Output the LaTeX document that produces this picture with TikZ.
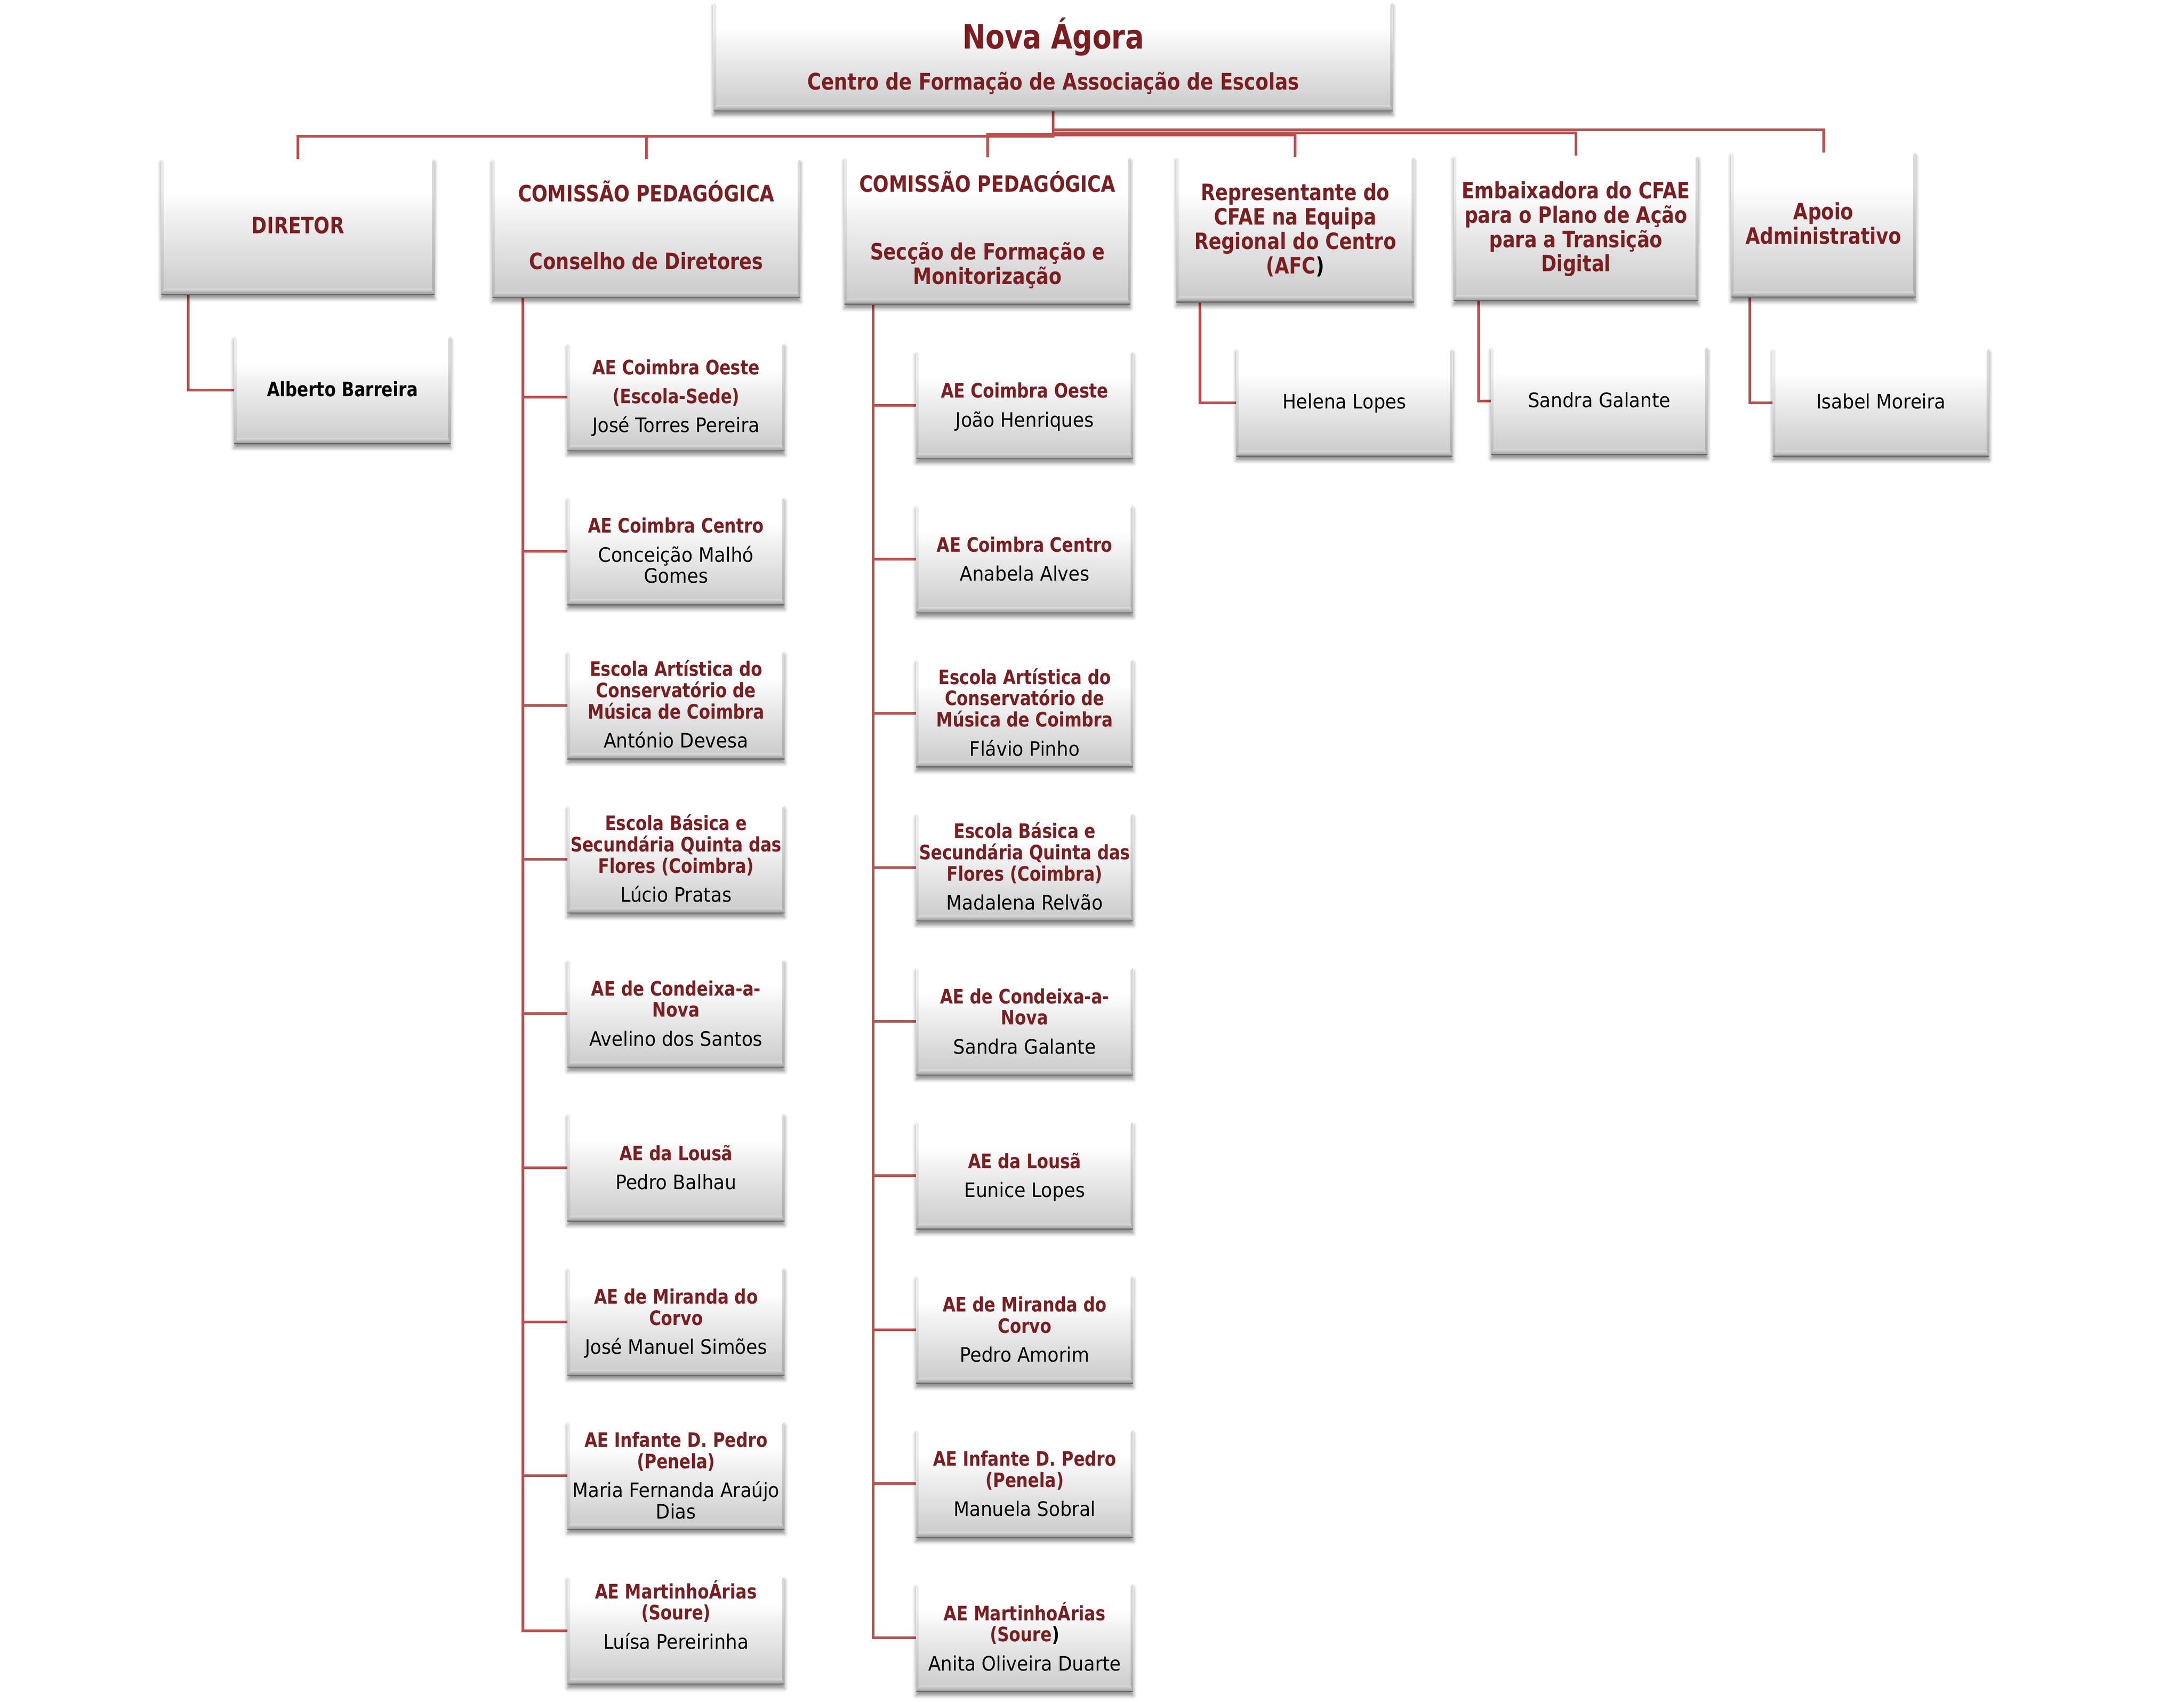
\documentclass[tikz,border=0pt]{standalone}
\usepackage{fontspec}
\setmainfont{DejaVu Sans}
\newfontfamily\bfam{DejaVu Sans}[FakeStretch=0.83]
\newfontfamily\rfam{DejaVu Sans}[FakeStretch=0.92]
\usetikzlibrary{shadows.blur,fit,calc}
\definecolor{lnc}{RGB}{190,78,76}
\definecolor{ttc}{RGB}{124,30,32}
\pgfdeclareverticalshading{boxshade}{100bp}{color(0bp)=(black!21); color(25bp)=(black!21); color(40bp)=(black!13); color(55bp)=(black!5); color(63bp)=(white); color(100bp)=(white)}
\pgfdeclarelayer{bg}
\pgfsetlayers{bg,main}
\newcommand\Tline[1]{{\color{ttc}\bfam\bfseries #1}}
\newcommand\Nline[1]{{\color{black}\rfam #1}}
\newcommand\Bline[1]{{\color{black}\bfam\bfseries #1}}
\tikzset{
 box/.style={inner sep=0pt, outer sep=0pt, shade, shading=boxshade, draw=none,
   blur shadow={shadow xshift=0pt, shadow yshift=-2.4pt, shadow blur radius=2.2pt, shadow opacity=45},
   path picture={
     \fill[black,opacity=0.08] (path picture bounding box.south west) -- (path picture bounding box.north west) -- ([xshift=1.6pt,yshift=-1.6pt]path picture bounding box.north west) -- ([xshift=1.6pt,yshift=3.6pt]path picture bounding box.south west) -- cycle;
     \fill[black,opacity=0.15] (path picture bounding box.south east) -- (path picture bounding box.north east) -- ([xshift=-1.6pt,yshift=-1.6pt]path picture bounding box.north east) -- ([xshift=-1.6pt,yshift=3.6pt]path picture bounding box.south east) -- cycle;
     \shade[top color=black!14, bottom color=black!42] (path picture bounding box.south west) -- ([xshift=1.6pt,yshift=3.6pt]path picture bounding box.south west) -- ([xshift=-1.6pt,yshift=3.6pt]path picture bounding box.south east) -- (path picture bounding box.south east) -- cycle;
     \draw[black!58, line width=1pt] (path picture bounding box.south west) -- (path picture bounding box.south east);
   }},
 conn/.style={draw=lnc, line width=1.6pt},
 ctext/.style={anchor=base, align=center, inner sep=0pt, font=\fontsize{12.2}{13.06}\selectfont},
 ltext/.style={anchor=base, align=center, inner sep=0pt, font=\fontsize{13.8}{14.94}\selectfont},
}
% #4 = baseline of the LAST text line
\newcommand\bx[5]{\node[box, fit={(#2,#3)(#4,#5)}] (#1) {};}
\newcommand\cbox[5]{\node[box, fit={(#2,#3)(#2+155.8,#3+77.3)}] (#1) {};
  \node[ctext] (#1t) at (#2+77.9,#4) {#5};}
\begin{document}
\begin{tikzpicture}[x=0.03cm,y=-0.03cm]
\useasboundingbox (0,0) rectangle (1567.9,1221.4);

% root
\bx{root}{512.3}{1.9}{999.9}{79.8}
\node[anchor=base, inner sep=0pt, font=\fontsize{20.5}{24}\selectfont] (roott) at (756.1,35.1) {\Tline{Nova Ágora}};
\node[anchor=base, inner sep=0pt, font=\fontsize{14}{16}\selectfont] (roots) at (756.1,64.5) {\Tline{Centro de Formação de Associação de Escolas}};

% level 1
\bx{dir}{115.7}{114.2}{312}{211.5}
\node[ltext] (dirt) at (213.85,167.7) {\Tline{DIRETOR}};
\bx{cp1}{353.4}{114.2}{574.5}{213.8}
\node[ltext] (cp1t) at (463.95,193.4) {\Tline{COMISSÃO PEDAGÓGICA}\\[26.7pt]\Tline{Conselho de Diretores}};
\bx{cp2}{606.3}{112.9}{811.5}{218.6}
\node[ltext] (cp2t) at (708.9,204) {\Tline{COMISSÃO PEDAGÓGICA}\\[26.7pt]\Tline{Secção de Formação e}\\\Tline{Monitorização}};
\bx{rep}{844.5}{112.7}{1015.2}{217}
\node[ltext] (rept) at (929.85,196.3) {\Tline{Representante do}\\\Tline{CFAE na Equipa}\\\Tline{Regional do Centro}\\\Tline{(AFC}\Bline{)}};
\bx{emb}{1043.6}{111.8}{1219.1}{216}
\node[ltext] (embt) at (1131.35,195) {\Tline{Embaixadora do CFAE}\\\Tline{para o Plano de Ação}\\\Tline{para a Transição}\\\Tline{Digital}};
\bx{apo}{1242.8}{109.5}{1375.3}{213.5}
\node[ltext] (apot) at (1309.05,175.1) {\Tline{Apoio}\\\Tline{Administrativo}};

% single children
\bx{alb}{168.1}{241.3}{323.6}{318.7}
\node[ctext] (albt) at (245.85,284.5) {\Bline{Alberto Barreira}};
\bx{hel}{887.5}{250.3}{1042.8}{327.7}
\node[ctext] (helt) at (965.15,293.5) {\Nline{Helena Lopes}};
\bx{san}{1070.4}{249}{1225.8}{326.5}
\node[ctext] (sant) at (1148.1,292.3) {\Nline{Sandra Galante}};
\bx{isa}{1272.7}{250.3}{1428.1}{327.7}
\node[ctext] (isat) at (1350.4,293.5) {\Nline{Isabel Moreira}};

% Conselho de Diretores column
\cbox{a1}{407.4}{246.5}{310.4}{\Tline{AE Coimbra Oeste}\\[4.7pt]\Tline{(Escola-Sede)}\\[4.7pt]\Nline{José Torres Pereira}}
\cbox{a2}{407.4}{357.1}{418.6}{\Tline{AE Coimbra Centro}\\[4.7pt]\Nline{Conceição Malhó}\\\Nline{Gomes}}
\cbox{a3}{407.4}{467.7}{536.8}{\Tline{Escola Artística do}\\\Tline{Conservatório de}\\\Tline{Música de Coimbra}\\[4.7pt]\Nline{António Devesa}}
\cbox{a4}{407.4}{578.3}{647.4}{\Tline{Escola Básica e}\\\Tline{Secundária Quinta das}\\\Tline{Flores (Coimbra)}\\[4.7pt]\Nline{Lúcio Pratas}}
\cbox{a5}{407.4}{688.9}{750.75}{\Tline{AE de Condeixa-a-}\\\Tline{Nova}\\[4.7pt]\Nline{Avelino dos Santos}}
\cbox{a6}{407.4}{799.5}{853.7}{\Tline{AE da Lousã}\\[4.7pt]\Nline{Pedro Balhau}}
\cbox{a7}{407.4}{910.1}{971.95}{\Tline{AE de Miranda do}\\\Tline{Corvo}\\[4.7pt]\Nline{José Manuel Simões}}
\cbox{a8}{407.4}{1020.7}{1090.2}{\Tline{AE Infante D. Pedro}\\\Tline{(Penela)}\\[4.7pt]\Nline{Maria Fernanda Araújo}\\\Nline{Dias}}
\cbox{a9}{407.4}{1131.8}{1183.5}{\Tline{AE MartinhoÁrias}\\\Tline{(Soure)}\\[4.7pt]\Nline{Luísa Pereirinha}}

% Seccao de Formacao column
\cbox{b1}{657.7}{252.2}{306.4}{\Tline{AE Coimbra Oeste}\\[4.7pt]\Nline{João Henriques}}
\cbox{b2}{657.7}{362.8}{417.0}{\Tline{AE Coimbra Centro}\\[4.7pt]\Nline{Anabela Alves}}
\cbox{b3}{657.7}{473.4}{542.5}{\Tline{Escola Artística do}\\\Tline{Conservatório de}\\\Tline{Música de Coimbra}\\[4.7pt]\Nline{Flávio Pinho}}
\cbox{b4}{657.7}{584.0}{653.1}{\Tline{Escola Básica e}\\\Tline{Secundária Quinta das}\\\Tline{Flores (Coimbra)}\\[4.7pt]\Nline{Madalena Relvão}}
\cbox{b5}{657.7}{694.6}{756.45}{\Tline{AE de Condeixa-a-}\\\Tline{Nova}\\[4.7pt]\Nline{Sandra Galante}}
\cbox{b6}{657.7}{805.2}{859.4}{\Tline{AE da Lousã}\\[4.7pt]\Nline{Eunice Lopes}}
\cbox{b7}{657.7}{915.8}{977.65}{\Tline{AE de Miranda do}\\\Tline{Corvo}\\[4.7pt]\Nline{Pedro Amorim}}
\cbox{b8}{657.7}{1026.4}{1088.25}{\Tline{AE Infante D. Pedro}\\\Tline{(Penela)}\\[4.7pt]\Nline{Manuela Sobral}}
\cbox{b9}{657.7}{1137.0}{1199.2}{\Tline{AE MartinhoÁrias}\\\Tline{(Soure}\Bline{)}\\[4.7pt]\Nline{Anita Oliveira Duarte}}

\begin{pgfonlayer}{bg}
\draw[conn] (root.south) -- ++(0,18.1) -| (dir.north);
\draw[conn] (root.south) -- ++(0,18.1) -| (cp1.north);
\draw[conn] (root.south) -- ++(0,16.4) -| (cp2.north);
\draw[conn] (root.south) -- ++(0,17.2) -| (rep.north);
\draw[conn] (root.south) -- ++(0,15.5) -| (emb.north);
\draw[conn] (root.south) -- ++(0,13.3) -| (apo.north);
\draw[conn] ($(dir.south west)+(19.6,0)$) |- (alb.west);
\draw[conn] ($(rep.south west)+(17,0)$) |- (hel.west);
\draw[conn] ($(emb.south west)+(17.8,0)$) |- (san.west);
\draw[conn] ($(apo.south west)+(13.4,0)$) |- (isa.west);
\foreach \k in {1,...,9}{
  \draw[conn] ($(cp1.south west)+(21.9,0)$) |- (a\k.west);
  \draw[conn] ($(cp2.south west)+(20.5,0)$) |- (b\k.west);
}
\end{pgfonlayer}
\end{tikzpicture}
\end{document}
